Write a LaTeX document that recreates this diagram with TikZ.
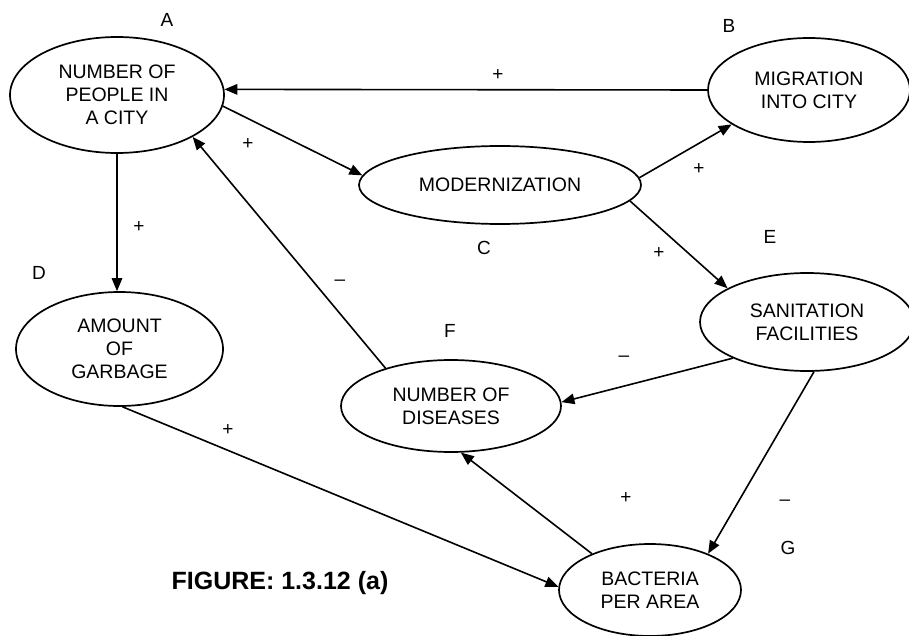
\documentclass[tikz,border=0pt]{standalone}
\usepackage{fontspec}
\setmainfont{Liberation Sans}
\usetikzlibrary{shapes.geometric,arrows.meta}
\begin{document}
\begin{tikzpicture}[x=1pt,y=-1pt,
  bubble/.style={draw,ellipse,line width=1.7pt,inner sep=0pt,align=center,
    font=\fontsize{19.5}{23}\selectfont},
  tag/.style={font=\fontsize{19}{22}\selectfont,inner sep=0pt},
  sign/.style={font=\fontsize{19}{22}\selectfont,inner sep=0pt},
  link/.style={line width=1.6pt,-{Triangle[length=13pt,width=10.5pt]}},
  plain/.style={line width=1.6pt}]
\useasboundingbox (0,0) rectangle (909,636);
% ellipses
\node[bubble,minimum width=214pt,minimum height=116pt] (A) at (117,95) {NUMBER OF\\PEOPLE IN\\A CITY};
\node[bubble,minimum width=202pt,minimum height=104pt] (B) at (809,90) {MIGRATION\\INTO CITY};
\node[bubble,minimum width=282pt,minimum height=78pt] (C) at (500,185) {MODERNIZATION};
\node[bubble,minimum width=207pt,minimum height=114pt] (D) at (119.5,349) {AMOUNT\\OF\\GARBAGE};
\node[bubble,minimum width=214pt,minimum height=98pt] (E) at (807,322) {SANITATION\\FACILITIES};
\node[bubble,minimum width=220pt,minimum height=92pt] (F) at (451,406) {NUMBER OF\\DISEASES};
\node[bubble,minimum width=182pt,minimum height=92pt] (G) at (650,590) {BACTERIA\\PER AREA};
% letter tags
\node[tag] (tA) at (167,20) {A};
\node[tag] (tB) at (729,26) {B};
\node[tag] (tC) at (484,248) {C};
\node[tag] (tD) at (39,273) {D};
\node[tag] (tE) at (770,237) {E};
\node[tag] (tF) at (450,331) {F};
\node[tag] (tG) at (788,548) {G};
% connectors
\draw[link] (B.180) -- (A.3);
\draw[link] (A.-6) -- (C.176);
\draw[link] (A.south) -- (A.south |- D.north);
\draw[link] (F.150) -- (A.-29);
\draw[link] (C.3) -- (B.204);
\draw[link] (C.-7) -- (E.157);
\draw[link] (E.206) -- (F.2);
\draw[link] (E.-82) -- (G.32);
\draw[link] (G.148) -- (F.-78);
\draw[link] (D.-87) -- (G.178);
% signs
\node[sign] (s1) at (498,75) {+};
\node[sign] (s2) at (248,144) {+};
\node[sign] (s3) at (139,227) {+};
\node[sign] (s4) at (699,169) {+};
\node[sign] (s5) at (659,253) {+};
\node[sign] (s6) at (228,430) {+};
\node[sign] (s7) at (626,498) {+};
\node[sign] (m1) at (340,283) {–};
\node[sign] (m2) at (624,359) {–};
\node[sign] (m3) at (785,503) {–};
% caption
\node[font=\fontsize{25}{28}\selectfont\bfseries,inner sep=0pt] (cap) at (280,583) {FIGURE: 1.3.12 (a)};
\end{tikzpicture}
\end{document}
